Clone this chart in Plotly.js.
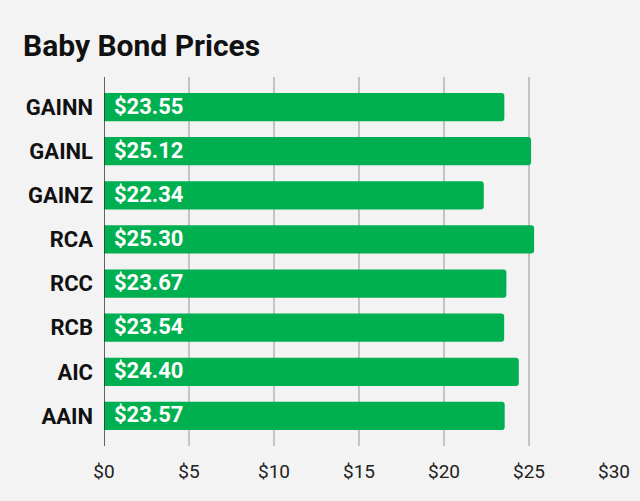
<!DOCTYPE html>
<html><head><meta charset="utf-8">
<script src="https://cdn.plot.ly/plotly-3.0.1.min.js"></script>
<style>html,body{margin:0;padding:0;background:#f3f3f3}#c{width:640px;height:501px}</style>
</head><body><div id="c"></div>
<script>
const tickers = ["GAINN","GAINL","GAINZ","RCA","RCC","RCB","AIC","AAIN"];
const prices = [23.55,25.12,22.34,25.30,23.67,23.54,24.40,23.57];
const tickVals = [0,5,10,15,20,25,30];
const tickText = ["$0","$5","$10","$15","$20","$25","$30"];

const trace = {
  type:'bar', orientation:'h', x:prices, y:tickers,
  marker:{color:'#00b050', cornerradius:3},
  width:0.64, hoverinfo:'skip'
};
const annotations = tickers.map((t,i)=>({
  x:0, y:t, xref:'x', yref:'y', xanchor:'left', yanchor:'middle', xshift:8, yshift:1,
  text:'$'+prices[i].toFixed(2), showarrow:false,
  font:{family:'Roboto', size:22, color:'#ffffff', weight:700}
}));
const layout = {
  width:640, height:501,
  paper_bgcolor:'#f3f3f3', plot_bgcolor:'#f3f3f3',
  margin:{l:104, r:26, t:77, b:55},
  title:{text:'<b>Baby Bond Prices</b>', x:23/640, xanchor:'left', xref:'container', y:1-45/501, yanchor:'middle', yref:'container',
    font:{family:'Roboto', size:30, color:'#111111'}},
  xaxis:{range:[0,30], tickvals:tickVals, ticktext:tickText, showgrid:true, gridcolor:'#c4c4c4', gridwidth:1.3,
    zeroline:false, showline:false, ticks:'', tickfont:{family:'Roboto', size:19, color:'#222222'}, ticklabelstandoff:12, fixedrange:true},
  yaxis:{type:'category', range:[7.68,-0.68], showgrid:false, zeroline:false, showline:false, ticks:'',
    tickfont:{family:'Roboto', size:22, color:'#111111', weight:700}, ticklabelstandoff:10},
  shapes:[{type:'line', xref:'x', yref:'paper', x0:0, x1:0, y0:0, y1:1, line:{color:'#333333', width:1.5}}],
  annotations:annotations,
  showlegend:false
};
Plotly.newPlot('c',[trace],layout,{displayModeBar:false, staticPlot:true});
</script></body></html>
